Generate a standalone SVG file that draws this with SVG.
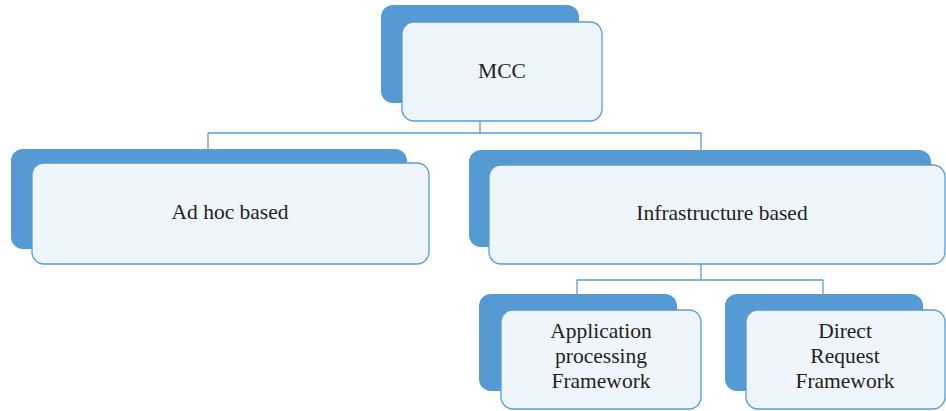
<svg xmlns="http://www.w3.org/2000/svg" width="946" height="411" viewBox="0 0 946 411">
  <style>
    .back { fill: #559AD3; }
    .front { fill: #EEF5FC; stroke: #5B9BD5; stroke-width: 1.3; }
    .link { fill: none; stroke: #5B9BD5; stroke-width: 1.3; }
    .label { font-family: "Liberation Serif", "Times New Roman", serif; font-size: 21.5px; fill: #231F20; text-anchor: middle; }
  </style>
  <rect width="946" height="411" fill="#ffffff"/>

  <g id="connectors">
    <path class="link" d="M480,121 V133 M208,133 H701 M208,133 V150 M701,133 V150"/>
    <path class="link" d="M701,264 V280 M577,280 H823 M577,280 V294 M823,280 V294"/>
  </g>

  <g id="node-mcc">
    <rect class="back" x="381" y="5" width="198" height="98" rx="12"/>
    <rect class="front" x="402" y="22" width="200" height="99" rx="12"/>
    <text class="label" x="502" y="78">MCC</text>
  </g>

  <g id="node-adhoc">
    <rect class="back" x="11" y="149" width="396" height="100" rx="12"/>
    <rect class="front" x="32" y="163" width="397" height="101" rx="12"/>
    <text class="label" x="230" y="219">Ad hoc based</text>
  </g>

  <g id="node-infrastructure">
    <rect class="back" x="469" y="150" width="462" height="97" rx="12"/>
    <rect class="front" x="489" y="165" width="456" height="99" rx="12"/>
    <text class="label" x="722" y="220">Infrastructure based</text>
  </g>

  <g id="node-application">
    <rect class="back" x="479" y="294" width="198" height="97" rx="12"/>
    <rect class="front" x="501" y="310" width="200" height="99" rx="12"/>
    <text class="label" x="601" y="338">Application</text>
    <text class="label" x="601" y="363">processing</text>
    <text class="label" x="601" y="388">Framework</text>
  </g>

  <g id="node-direct">
    <rect class="back" x="725" y="294" width="198" height="97" rx="12"/>
    <rect class="front" x="746" y="310" width="199" height="99" rx="12"/>
    <text class="label" x="845" y="338">Direct</text>
    <text class="label" x="845" y="363">Request</text>
    <text class="label" x="845" y="388">Framework</text>
  </g>
</svg>
